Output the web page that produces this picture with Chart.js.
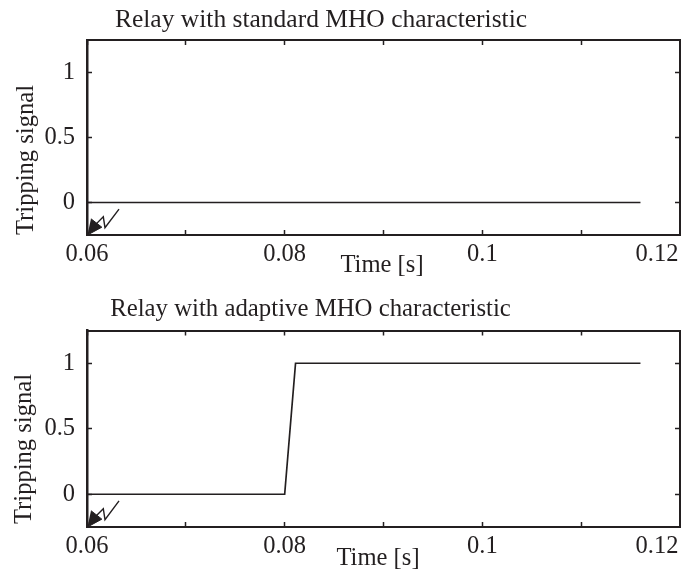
<!DOCTYPE html>
<html>
<head>
<meta charset="utf-8">
<title>Relay tripping signal</title>
<script src="https://cdn.jsdelivr.net/npm/chart.js@4"></script>
<style>
  html, body { margin: 0; padding: 0; background: #fff; overflow: hidden; }
  canvas { display: block; }
</style>
</head>
<body>
<canvas id="ctx1" width="681" height="290"></canvas>
<canvas id="ctx2" width="681" height="282"></canvas>
<script>
const timeStandard = [0.06, 0.116];
const signalStandard = [0, 0];
const timeAdaptive = [0.06, 0.08, 0.0811, 0.116];
const signalAdaptive = [0, 0, 1, 1];

// fault marker, in data units
const boltTime = [0.06324, 0.06182, 0.06165, 0.06081];
const boltSignal = [-0.051, -0.194, -0.11, -0.174];
const headTime = [0.06005, 0.0615, 0.0604];
const headSignal = [-0.25, -0.19, -0.125];

const xTicks = [0.06, 0.07, 0.08, 0.09, 0.1, 0.11, 0.12];
const xTickLabels = ['0.06', '', '0.08', '', '0.1', '', '0.12'];
const yTicks = [0, 0.5, 1];
const yTickLabels = ['0', '0.5', '1'];

const titleStandard = 'Relay with standard MHO characteristic';
const titleAdaptive = 'Relay with adaptive MHO characteristic';
const xLabel = 'Time [s]';
const yLabel = 'Tripping signal';

const ink = '#231f20';
const serif = 'Liberation Serif';

const toPoints = (xs, ys) => xs.map((x, i) => ({ x, y: ys[i] }));

const setTicks = (values) => (scale) => {
    scale.ticks = values.map(value => ({ value }));
};

// fixed axis sizes, and no extra room for labels that hang over the ends
const noOverhang = (scale) => {
    scale.paddingLeft = scale.paddingRight = scale.paddingTop = scale.paddingBottom = 0;
};
const fixedHeight = (h) => (scale) => { scale.height = h; noOverhang(scale); };
const fixedWidth = (w) => (scale) => { scale.width = w; noOverhang(scale); };

const myPlot = (ctx, o) => {
    const frame = {
        plugins: [{
            id: 'frameText',
            afterLayout(chart) {
                // the titles sit left of the canvas centre
                chart.titleBlock.left += o.titleShift;
                chart.titleBlock.right += o.titleShift;
            },
            beforeDraw(chart) {
                // last tick label is pulled in so that it stays on the page
                const items = chart.scales.x.getLabelItems();
                const last = items[items.length - 1];
                last.options.translation[0] = 657;
            },
            afterDraw(chart) {
                const c = chart.ctx;
                c.save();
                c.fillStyle = ink;
                c.font = '24.6px "' + serif + '"';
                c.textAlign = 'center';
                c.textBaseline = 'middle';
                c.fillText(xLabel, o.xLabelAt[0], o.xLabelAt[1]);
                c.translate(o.yLabelAt[0], o.yLabelAt[1]);
                c.rotate(-Math.PI / 2);
                c.fillText(yLabel, 0, 0);
                c.restore();
            }
        }]
    };
    const axisGrid = { drawOnChartArea: false, tickLength: -5, tickWidth: 1.5, tickColor: ink };
    const axisBorder = { color: ink, width: 2 };
    new Chart(ctx, {
        type: 'line',
        data: {
            datasets: [
                { data: toPoints(o.time, o.signal), borderColor: ink, borderWidth: 1.7, pointRadius: 0 },
                { data: toPoints(boltTime, boltSignal), borderColor: ink, borderWidth: 1.4, pointRadius: 0 },
                { data: toPoints(headTime, headSignal), borderColor: ink, backgroundColor: ink, borderWidth: 1, pointRadius: 0, fill: 'shape' }
            ]
        },
        options: {
            responsive: false,
            animation: false,
            layout: { padding: 0 },
            plugins: {
                legend: { display: false },
                tooltip: { enabled: false },
                title: {
                    display: true,
                    text: o.title,
                    color: ink,
                    font: { family: serif, size: o.titleSize, weight: 'normal', lineHeight: 1 },
                    padding: { top: o.titleTop, bottom: 0 }
                }
            },
            scales: {
                x: {
                    type: 'linear', position: 'bottom', min: 0.06, max: 0.12,
                    afterBuildTicks: setTicks(xTicks),
                    afterFit: fixedHeight(o.bottomSpace),
                    grid: axisGrid, border: axisBorder,
                    ticks: {
                        color: ink, autoSkip: false, maxRotation: 0, padding: 10,
                        font: { family: serif, size: 24.5 },
                        callback: (v) => xTickLabels[xTicks.indexOf(v)]
                    }
                },
                x2: {
                    type: 'linear', position: 'top', min: 0.06, max: 0.12,
                    afterBuildTicks: setTicks(xTicks),
                    afterFit: fixedHeight(o.topSpace),
                    grid: axisGrid, border: axisBorder,
                    ticks: { callback: () => '', autoSkip: false, maxRotation: 0 }
                },
                y: {
                    type: 'linear', position: 'left', min: -0.25, max: 1.25,
                    afterBuildTicks: setTicks(yTicks),
                    afterFit: fixedWidth(87),
                    grid: axisGrid, border: { color: ink, width: 2.5 },
                    ticks: {
                        color: ink, padding: 17,
                        font: { family: serif, size: 24.5 },
                        callback: (v) => yTickLabels[yTicks.indexOf(v)]
                    }
                },
                y2: {
                    type: 'linear', position: 'right', min: -0.25, max: 1.25,
                    afterBuildTicks: setTicks(yTicks),
                    afterFit: fixedWidth(1),
                    grid: axisGrid, border: axisBorder,
                    ticks: { callback: () => '' }
                }
            }
        },
        plugins: frame.plugins
    });
};

myPlot(document.getElementById('ctx1'), {
    time: timeStandard, signal: signalStandard, title: titleStandard,
    titleShift: -19.5, titleSize: 25.5, titleTop: 8, topSpace: 6.5, bottomSpace: 55,
    xLabelAt: [382, 266], yLabelAt: [27, 160]
});
myPlot(document.getElementById('ctx2'), {
    time: timeAdaptive, signal: signalAdaptive, title: titleAdaptive,
    titleShift: -30, titleSize: 24.8, titleTop: 7, topSpace: 8.7, bottomSpace: 45,
    xLabelAt: [378, 268.5], yLabelAt: [25, 159]
});
</script>
</body>
</html>
